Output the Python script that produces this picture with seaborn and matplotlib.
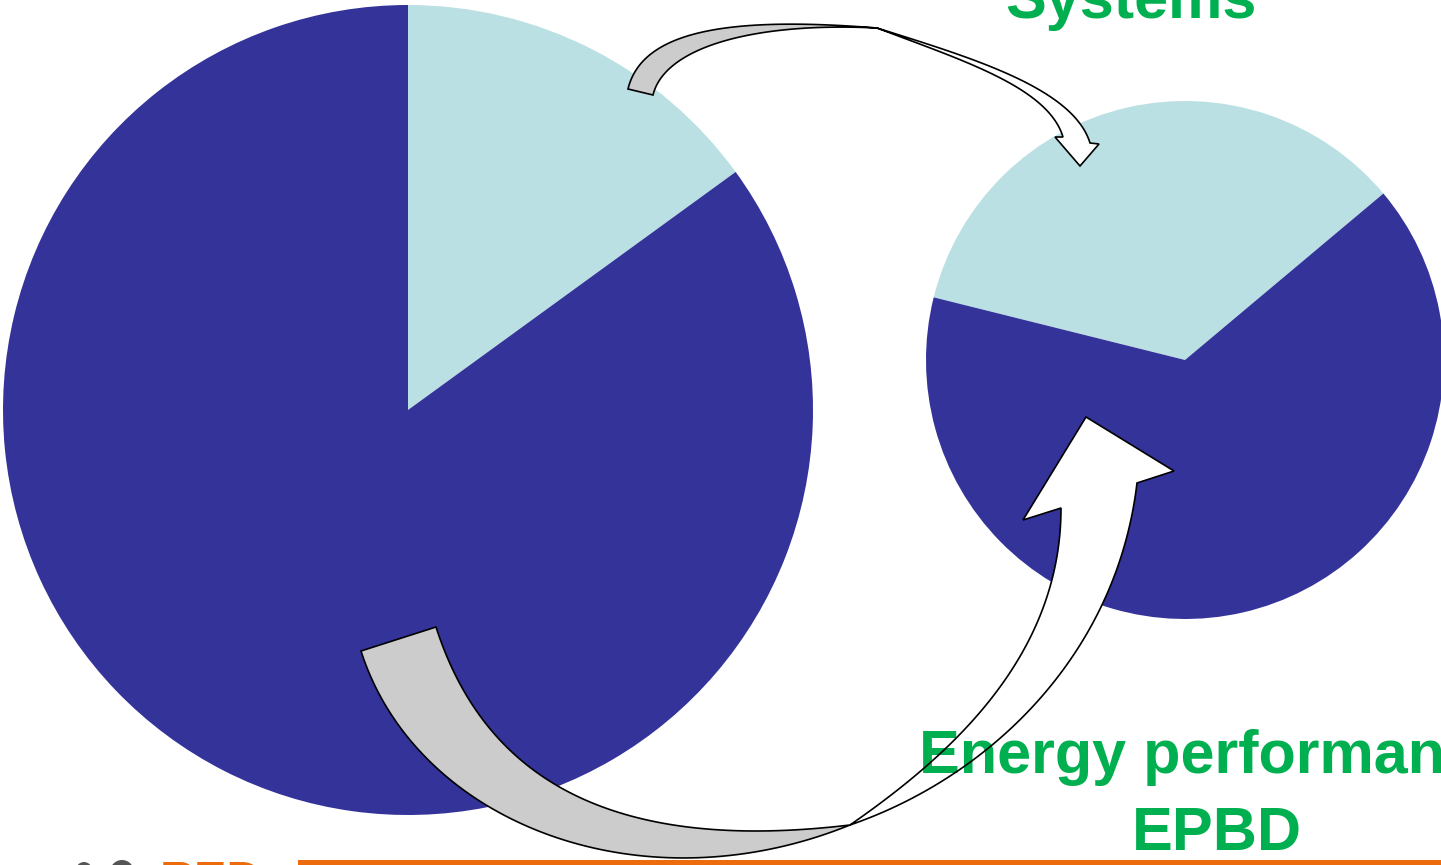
import numpy as np
import matplotlib
matplotlib.use("Agg")
import matplotlib.pyplot as plt
from matplotlib.patches import Polygon, Rectangle, Circle
import seaborn as sns

W, H = 1441, 865

# Share of the two segments in each pie (light segment first)
segments = ["Systems", "Other"]
shares_before = [15, 85]
shares_after = [35, 65]

sns.set_theme(style="white")
plt.rcParams["font.family"] = ["Liberation Sans", "DejaVu Sans"]

pie_colors = ["#BBE0E3", "#333399"]
GREEN = "#00B050"
ORANGE = "#EC6B0C"
ARROW_GREY = "#CCCCCC"

fig = plt.figure(figsize=(W / 100, H / 100), dpi=100)
ax = fig.add_axes([0, 0, 1, 1])

ax.pie(shares_before, colors=pie_colors, startangle=90, counterclock=False,
       center=(408, H - 410), radius=405, wedgeprops=dict(linewidth=0))
ax.pie(shares_after, colors=pie_colors, startangle=166, counterclock=False,
       center=(1185, H - 360), radius=259, wedgeprops=dict(linewidth=0))

ax.set_xlim(0, W)
ax.set_ylim(0, H)
ax.set_aspect("auto")
ax.axis("off")


def bezier(p0, p1, p2, p3, n=80):
    """Cubic Bezier in screen coordinates (y downwards), returned in axes data."""
    p0, p1, p2, p3 = (np.asarray(p, float) for p in (p0, p1, p2, p3))
    t = np.linspace(0, 1, n)[:, None]
    pts = ((1 - t) ** 3 * p0 + 3 * (1 - t) ** 2 * t * p1
           + 3 * (1 - t) * t ** 2 * p2 + t ** 3 * p3)
    pts[:, 1] = H - pts[:, 1]
    return pts


def flip(points):
    pts = np.asarray(points, float).copy()
    pts[:, 1] = H - pts[:, 1]
    return pts


def ribbon(edge_a, edge_b, head=None, face="white"):
    a = bezier(*edge_a)
    b = bezier(*edge_b)
    parts = [a]
    if head is not None:
        parts.append(flip(head))
    parts.append(b[::-1])
    poly = np.vstack(parts)
    ax.add_patch(Polygon(poly, closed=True, facecolor=face, edgecolor="none", zorder=3))
    ax.add_patch(Polygon(poly, closed=True, facecolor="none", edgecolor="black",
                         linewidth=1.2, joinstyle="miter", zorder=5))


# Upper curved arrow: grey back face, then white front with head
ribbon([(628, 89), (642, 31), (727, 16), (877, 28)],
       [(653, 95), (665, 46), (757, 22), (877, 28)],
       face=ARROW_GREY)
ribbon([(877, 28), (961, 60), (1048, 87), (1063, 137)],
       [(877, 28), (972, 58), (1073, 88), (1090, 143)],
       head=[(1055, 137), (1080, 166), (1099, 144)])

# Lower curved arrow
ribbon([(361, 651), (416, 823), (640, 910), (850, 825)],
       [(436, 627), (482, 770), (600, 855), (850, 825)],
       face=ARROW_GREY)
ribbon([(850, 825), (948, 757), (1061, 658), (1061, 508)],
       [(850, 825), (992, 776), (1117, 653), (1137, 483)],
       head=[(1023, 520), (1086, 417), (1174, 471)])

# Labels
ax.text(1131, H - 18, "Systems", color=GREEN, fontsize=44, fontweight="bold",
        ha="center", va="baseline", zorder=4)
ax.text(1216, H - 773, "Energy performance", color=GREEN, fontsize=44,
        fontweight="bold", ha="center", va="baseline", zorder=4)
ax.text(1217, H - 850, "EPBD", color=GREEN, fontsize=44, fontweight="bold",
        ha="center", va="baseline", zorder=4)

# Footer band
ax.add_patch(Rectangle((298, 0), W - 298, 5, facecolor=ORANGE, edgecolor="none", zorder=6))
ax.add_patch(Circle((84, H - 870), 8, facecolor="#555555", edgecolor="none", zorder=6))
ax.add_patch(Circle((122, H - 872), 12, facecolor="#555555", edgecolor="none", zorder=6))
ax.text(160, H - 895, "RED", color=ORANGE, fontsize=35, fontweight="bold",
        ha="left", va="baseline", zorder=6)

fig.savefig("out.png", dpi=100)
